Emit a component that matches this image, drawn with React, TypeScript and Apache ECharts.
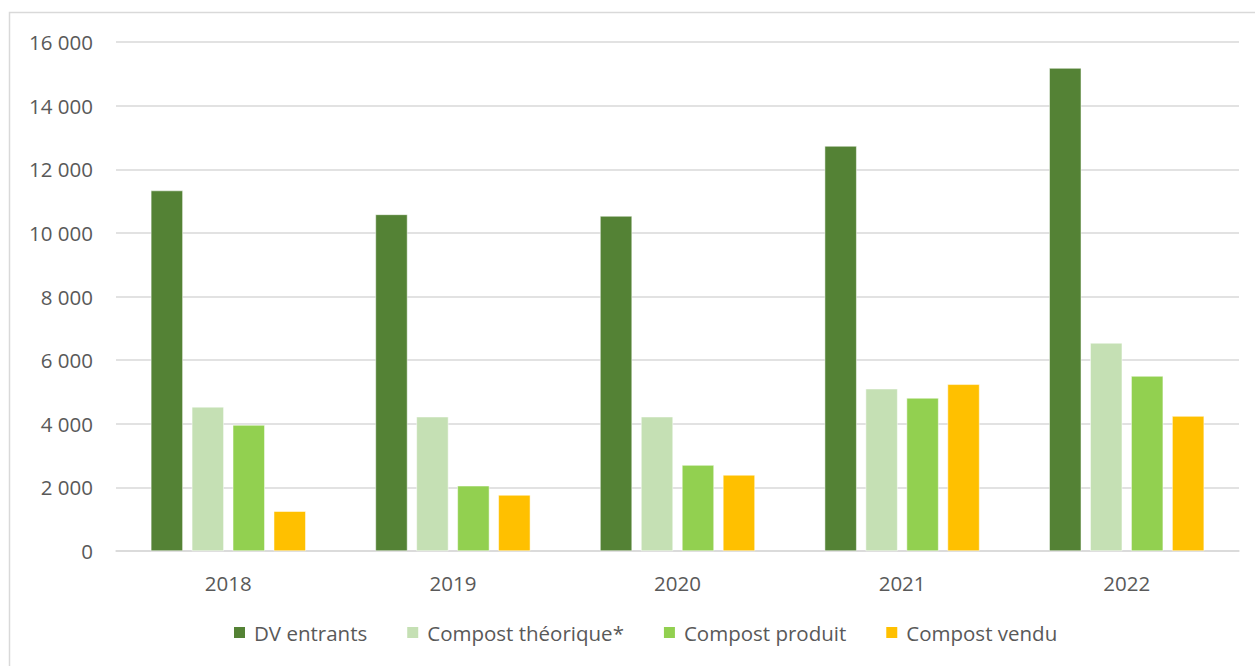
import React, { useEffect, useRef } from "react";
import * as echarts from "echarts";

const categories = ["2018", "2019", "2020", "2021", "2022"];
const dvEntrants = [11330, 10580, 10530, 12730, 15180];
const compostTheorique = [4530, 4220, 4220, 5100, 6540];
const compostProduit = [3960, 2050, 2700, 4810, 5500];
const compostVendu = [1250, 1760, 2390, 5240, 4240];
const seriesNames = ["DV entrants", "Compost théorique*", "Compost produit", "Compost vendu"];
const seriesColors = ["#548235", "#C5E0B4", "#92D050", "#FFC000"];

const FONT = "'Open Sans', sans-serif";

export default function App() {
  const ref = useRef<HTMLDivElement>(null);
  useEffect(() => {
    document.body.style.margin = "0";
    const chart = echarts.init(ref.current!, null, { renderer: "svg" });
    const data = [dvEntrants, compostTheorique, compostProduit, compostVendu];
    chart.setOption({
      animation: false,
      textStyle: { fontFamily: FONT },
      graphic: [
        {
          type: "rect",
          shape: { x: 9.5, y: 12.5, width: 1400, height: 800 },
          style: { fill: "none", stroke: "#d9d9d9", lineWidth: 1.5 },
          silent: true,
        },
      ],
      grid: { left: 116, right: 16, top: 42, bottom: 115, containLabel: false },
      legend: {
        bottom: 18,
        left: 227,
        padding: 5,
        itemWidth: 13,
        itemHeight: 13,
        itemGap: 38,
        icon: "rect",
        textStyle: { fontSize: 20.5, color: "#595959", fontFamily: FONT, padding: [0, 0, 0, 3] },
        data: seriesNames,
      },
      xAxis: {
        type: "category",
        data: categories,
        axisLine: { lineStyle: { color: "#d9d9d9", width: 1.5 } },
        axisTick: { show: false },
        axisLabel: { fontSize: 20.5, color: "#595959", margin: 21, fontFamily: FONT },
      },
      yAxis: {
        type: "value",
        min: 0,
        max: 16000,
        interval: 2000,
        axisLine: { show: false },
        axisTick: { show: false },
        splitLine: { lineStyle: { color: "#d9d9d9", width: 1.5 } },
        axisLabel: {
          fontSize: 20.5,
          color: "#595959",
          margin: 23,
          fontFamily: FONT,
          formatter: (v: number) => v.toLocaleString("fr-FR").replace(/\s|\u202f|\u00a0/g, " "),
        },
      },
      series: seriesNames.map((name, i) => ({
        name,
        type: "bar",
        data: data[i],
        barWidth: 32,
        barGap: "28%",
        itemStyle: { color: seriesColors[i], borderColor: "#ffffff", borderWidth: 0.5 },
      })),
    });
    return () => chart.dispose();
  }, []);
  return <div ref={ref} style={{ width: 1255, height: 666 }} />;
}
